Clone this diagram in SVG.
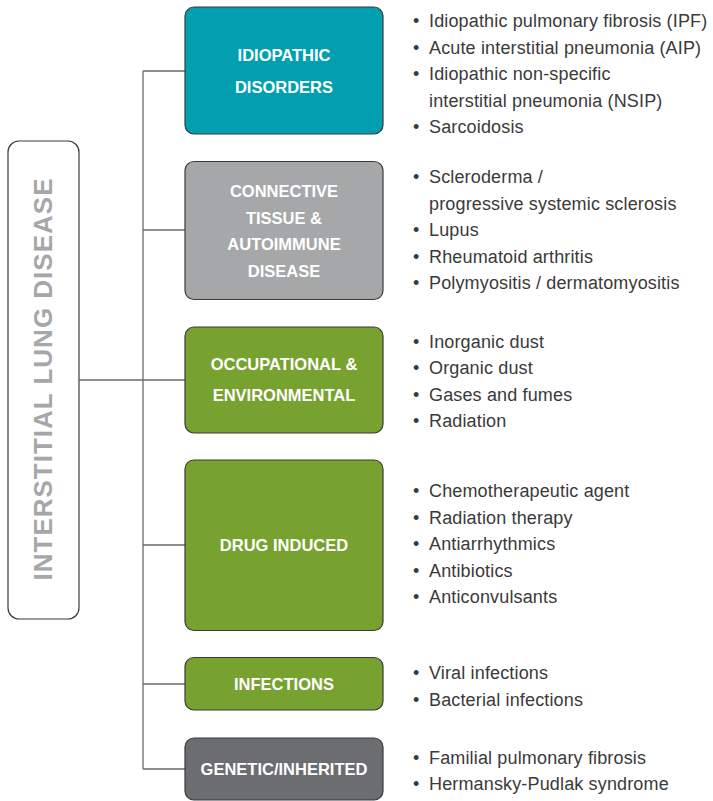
<svg xmlns="http://www.w3.org/2000/svg" width="713" height="801" viewBox="0 0 713 801">
  <style>
    .box { stroke: #3a3a3a; stroke-width: 1.2; }
    .teal { fill: #019fb0; }
    .grey { fill: #a6a7a9; }
    .green { fill: #78a22f; }
    .dark { fill: #6c6d70; }
    .cat { font-family: "Liberation Sans", Arial, sans-serif; font-weight: bold; font-size: 16.5px; fill: #ffffff; text-anchor: middle; }
    .item { font-family: "Liberation Sans", Arial, sans-serif; font-size: 18px; letter-spacing: 0.15px; fill: #3a3a3a; }
    .link { stroke: #6a6a6a; stroke-width: 1.3; fill: none; }
  </style>

  <!-- root label -->
  <g id="root">
    <rect x="8" y="141" width="71" height="478" rx="11" fill="#ffffff" stroke="#3a3a3a" stroke-width="1.2"/>
    <text transform="translate(52,379) rotate(-90)" text-anchor="middle" font-family="'Liberation Sans', Arial, sans-serif" font-weight="bold" font-size="26" letter-spacing="1" fill="#a6a7a9">INTERSTITIAL LUNG DISEASE</text>
  </g>

  <!-- tree connectors -->
  <g id="connectors">
    <path class="link" d="M79 380 H185"/>
    <path class="link" d="M143 71 V769"/>
    <path class="link" d="M143 71 H185"/>
    <path class="link" d="M143 230 H185"/>
    <path class="link" d="M143 545 H185"/>
    <path class="link" d="M143 684 H185"/>
    <path class="link" d="M143 769 H185"/>
  </g>

  <g id="idiopathic">
    <rect class="box teal" x="185" y="7" width="198" height="127" rx="9"/>
    <text class="cat" x="284" y="60.5">IDIOPATHIC</text>
    <text class="cat" x="284" y="92.5">DISORDERS</text>
    <text class="item" x="413" y="27">•</text><text class="item" x="429" y="27">Idiopathic pulmonary fibrosis (IPF)</text>
    <text class="item" x="413" y="53.5">•</text><text class="item" x="429" y="53.5">Acute interstitial pneumonia (AIP)</text>
    <text class="item" x="413" y="80">•</text><text class="item" x="429" y="80">Idiopathic non-specific</text>
    <text class="item" x="429" y="106.5">interstitial pneumonia (NSIP)</text>
    <text class="item" x="413" y="133">•</text><text class="item" x="429" y="133">Sarcoidosis</text>
  </g>

  <g id="connective">
    <rect class="box grey" x="185" y="161.5" width="198" height="138" rx="9"/>
    <text class="cat" x="284" y="197">CONNECTIVE</text>
    <text class="cat" x="284" y="223.5">TISSUE &amp;</text>
    <text class="cat" x="284" y="250">AUTOIMMUNE</text>
    <text class="cat" x="284" y="276.5">DISEASE</text>
    <text class="item" x="413" y="183">•</text><text class="item" x="429" y="183">Scleroderma /</text>
    <text class="item" x="429" y="209.5">progressive systemic sclerosis</text>
    <text class="item" x="413" y="236">•</text><text class="item" x="429" y="236">Lupus</text>
    <text class="item" x="413" y="262.5">•</text><text class="item" x="429" y="262.5">Rheumatoid arthritis</text>
    <text class="item" x="413" y="289">•</text><text class="item" x="429" y="289">Polymyositis / dermatomyositis</text>
  </g>

  <g id="occupational">
    <rect class="box green" x="185" y="327" width="198" height="106" rx="9"/>
    <text class="cat" x="284" y="369.5">OCCUPATIONAL &amp;</text>
    <text class="cat" x="284" y="401">ENVIRONMENTAL</text>
    <text class="item" x="413" y="347.5">•</text><text class="item" x="429" y="347.5">Inorganic dust</text>
    <text class="item" x="413" y="374">•</text><text class="item" x="429" y="374">Organic dust</text>
    <text class="item" x="413" y="400.5">•</text><text class="item" x="429" y="400.5">Gases and fumes</text>
    <text class="item" x="413" y="427">•</text><text class="item" x="429" y="427">Radiation</text>
  </g>

  <g id="drug">
    <rect class="box green" x="185" y="460" width="198" height="170.5" rx="9"/>
    <text class="cat" x="284" y="551">DRUG INDUCED</text>
    <text class="item" x="413" y="497">•</text><text class="item" x="429" y="497">Chemotherapeutic agent</text>
    <text class="item" x="413" y="523.5">•</text><text class="item" x="429" y="523.5">Radiation therapy</text>
    <text class="item" x="413" y="550">•</text><text class="item" x="429" y="550">Antiarrhythmics</text>
    <text class="item" x="413" y="576.5">•</text><text class="item" x="429" y="576.5">Antibiotics</text>
    <text class="item" x="413" y="603">•</text><text class="item" x="429" y="603">Anticonvulsants</text>
  </g>

  <g id="infections">
    <rect class="box green" x="185" y="657.5" width="198" height="52.5" rx="9"/>
    <text class="cat" x="284" y="690">INFECTIONS</text>
    <text class="item" x="413" y="679">•</text><text class="item" x="429" y="679">Viral infections</text>
    <text class="item" x="413" y="705.5">•</text><text class="item" x="429" y="705.5">Bacterial infections</text>
  </g>

  <g id="genetic">
    <rect class="box dark" x="185" y="738" width="198" height="62" rx="9"/>
    <text class="cat" x="284" y="775">GENETIC/INHERITED</text>
    <text class="item" x="413" y="764">•</text><text class="item" x="429" y="764">Familial pulmonary fibrosis</text>
    <text class="item" x="413" y="790">•</text><text class="item" x="429" y="790">Hermansky-Pudlak syndrome</text>
  </g>
</svg>
